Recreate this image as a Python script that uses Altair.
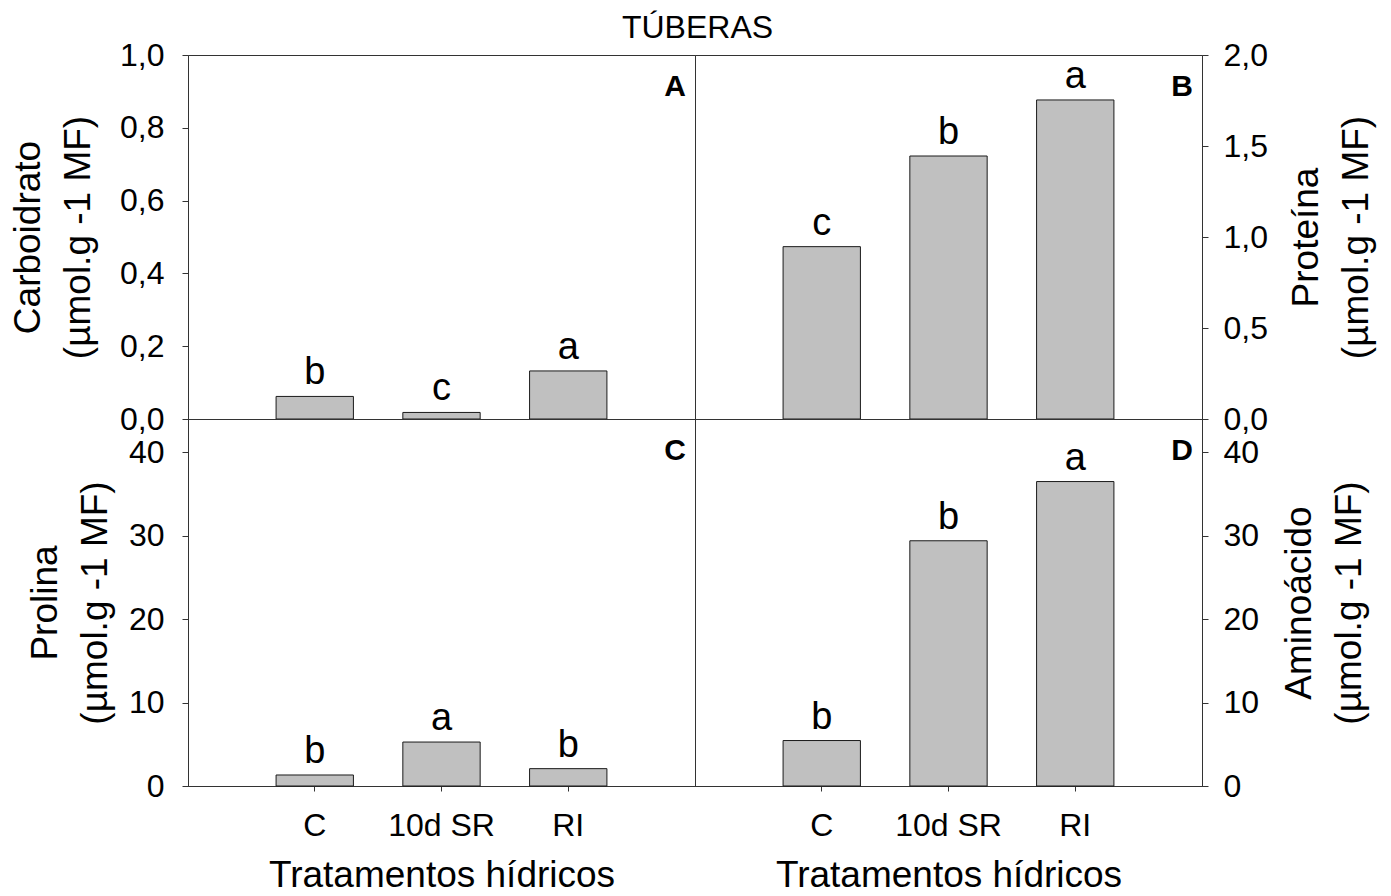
import altair as alt
import pandas as pd

FONT = "Liberation Sans"

TREATMENTS = ["C", "10d SR", "RI"]

carb_values = [0.062, 0.018, 0.132]
carb_letters = ["b", "c", "a"]

prot_values = [0.947, 1.445, 1.753]
prot_letters = ["c", "b", "a"]

prol_values = [1.32, 5.27, 2.08]
prol_letters = ["b", "a", "b"]

amino_values = [5.45, 29.4, 36.5]
amino_letters = ["b", "b", "a"]

carb_ticks = [0.0, 0.2, 0.4, 0.6, 0.8, 1.0]
prot_ticks = [0.0, 0.5, 1.0, 1.5, 2.0]
int_ticks = [0, 10, 20, 30, 40]

UNIT = "(µmol.g -1 MF)"

W = 507
H_TOP = 364
H_BOT = 367

DEC_EXPR = "replace(format(datum.value, '.1f'), '.', ',')"
INT_EXPR = "format(datum.value, 'd')"


def panel(values, letters, ymax, ticks, label_expr, title_lines, orient, bottom, height, tag, title_x):
    df = pd.DataFrame({"trat": TREATMENTS, "valor": values, "letra": letters})
    if bottom:
        xaxis = alt.Axis(
            labelAngle=0, labelFontSize=32, labelPadding=19, tickSize=5,
            title="Tratamentos hídricos", titleFontSize=37, titleFontWeight="normal",
            titleBaseline="alphabetic", titleY=100, domain=True,
        )
    else:
        xaxis = alt.Axis(labels=False, ticks=False, title=None, domain=True)
    x = alt.X("trat:N", sort=TREATMENTS,
              scale=alt.Scale(domain=TREATMENTS, paddingInner=0.39, paddingOuter=0.695),
              axis=xaxis)
    common = dict(
        values=ticks, labelExpr=label_expr, labelFontSize=32, tickSize=6,
        title=title_lines, titleFontSize=37, titleFontWeight="normal",
        titleLineHeight=50, titleAngle=270, titleX=title_x, titleY=height / 2, grid=False,
    )
    if orient == "left":
        yaxis = alt.Axis(orient="left", labelPadding=18, titleBaseline="bottom", **common)
    else:
        yaxis = alt.Axis(orient="right", labelPadding=15, titleBaseline="top", **common)
    y = alt.Y("valor:Q", scale=alt.Scale(domain=[0, ymax], nice=False, zero=True), axis=yaxis)
    base = alt.Chart(df)
    bars = base.mark_bar(color="#c0c0c0", stroke="#1a1a1a", strokeWidth=1).encode(x=x, y=y)
    txt = base.mark_text(baseline="bottom", dy=-4, fontSize=38, font=FONT, color="black").encode(
        x=x, y=y, text="letra:N"
    )
    tag_df = pd.DataFrame({"t": [tag]})
    tag_mark = alt.Chart(tag_df).mark_text(
        align="right", baseline="alphabetic", fontSize=30, fontWeight="bold", font=FONT, color="black"
    ).encode(text="t:N", x=alt.value(W - 9), y=alt.value(41))
    return alt.layer(bars, txt, tag_mark).properties(width=W, height=height)


pA = panel(carb_values, carb_letters, 1.0, carb_ticks, DEC_EXPR, ["Carboidrato", UNIT], "left", False, H_TOP, "A", -141)
pB = panel(prot_values, prot_letters, 2.0, prot_ticks, DEC_EXPR, ["Proteína", UNIT], "right", False, H_TOP, "B", 86)
pC = panel(prol_values, prol_letters, 44, int_ticks, INT_EXPR, ["Prolina", UNIT], "left", True, H_BOT, "C", -124)
pD = panel(amino_values, amino_letters, 44, int_ticks, INT_EXPR, ["Aminoácido", UNIT], "right", True, H_BOT, "D", 79)

chart = alt.concat(
    pA, pB, pC, pD, columns=2, spacing=0, bounds="flush",
    title=alt.TitleParams("TÚBERAS", fontSize=32, font=FONT, fontWeight="normal",
                          anchor="middle", offset=-6, dx=6, color="black"),
).resolve_scale(y="independent", x="independent").properties(
    padding={"left": 0, "top": 3, "right": 4, "bottom": -6},
    background="white",
).configure_view(
    stroke="#333", strokeWidth=1
).configure_axis(
    domainColor="#333", tickColor="#333", labelColor="black", titleColor="black",
    labelFont=FONT, titleFont=FONT, grid=False,
)

chart.save("out.html", embed_options={"renderer": "svg", "actions": False})
